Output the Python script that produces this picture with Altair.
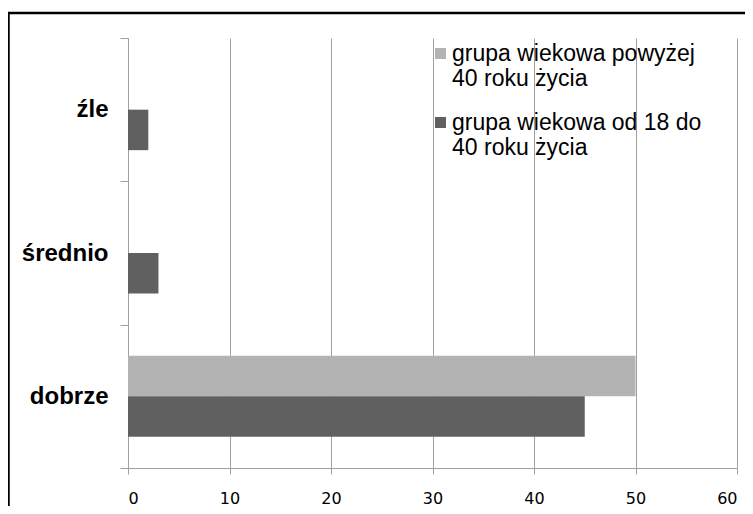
import altair as alt
import pandas as pd

categories = ["źle", "średnio", "dobrze"]
series = ["grupa wiekowa powyżej 40 roku życia", "grupa wiekowa od 18 do 40 roku życia"]
values_over_40 = [0, 0, 50]
values_18_40 = [2, 3, 45]
colors = ["#b3b3b3", "#606060"]
x_ticks = [0, 10, 20, 30, 40, 50, 60]

rows = []
for c, a, b in zip(categories, values_over_40, values_18_40):
    rows.append({"ocena": c, "grupa": series[0], "wartosc": a})
    rows.append({"ocena": c, "grupa": series[1], "wartosc": b})
df = pd.DataFrame(rows)

W, H = 609, 430
GRAY = "#a0a0a0"

bars = alt.Chart(df).mark_bar().encode(
    y=alt.Y(
        "ocena:N",
        sort=categories,
        scale=alt.Scale(paddingInner=0, paddingOuter=0),
        axis=alt.Axis(
            title=None,
            labelFont="Liberation Sans",
            labelFontWeight="bold",
            labelFontSize=24,
            labelColor="black",
            labelPadding=12,
            tickSize=8,
            tickBand="extent",
            domainColor=GRAY,
            tickColor=GRAY,
            grid=False,
        ),
    ),
    yOffset=alt.YOffset(
        "grupa:N", sort=series, scale=alt.Scale(paddingInner=0, paddingOuter=0.77)
    ),
    x=alt.X(
        "wartosc:Q",
        scale=alt.Scale(domain=[0, 60], nice=False),
        axis=alt.Axis(
            values=x_ticks,
            title=None,
            labelFont="DejaVu Sans",
            labelFontSize=16,
            labelColor="black",
            labelPadding=16,
            tickSize=6,
            tickColor=GRAY,
            domainColor=GRAY,
            grid=True,
            gridColor=GRAY,
            gridOpacity=1,
        ),
    ),
    color=alt.Color(
        "grupa:N",
        sort=series,
        scale=alt.Scale(domain=series, range=colors),
        legend=alt.Legend(
            title=None,
            orient="none",
            legendX=301,
            legendY=4,
            padding=0,
            symbolType="square",
            symbolSize=121,
            symbolStrokeWidth=0,
            labelFont="Liberation Sans",
            labelFontSize=23,
            labelColor="black",
            labelLimit=400,
            labelOffset=0,
            rowPadding=20,
            labelExpr="split(replace(datum.label, ' 40 roku', '|40 roku'), '|')",
        ),
    ),
)

frame_src = pd.DataFrame({"k": [0]})
frame_top = alt.Chart(frame_src).mark_rule(color="black", strokeWidth=2.5).encode(
    x=alt.value(-121), x2=alt.value(W + 40), y=alt.value(-25)
)
frame_left = alt.Chart(frame_src).mark_rule(color="black", strokeWidth=2.5).encode(
    x=alt.value(-119.5), y=alt.value(-26), y2=alt.value(H + 60)
)

chart = (
    alt.layer(bars, frame_top, frame_left)
    .properties(
        width=W,
        height=H,
        autosize=alt.AutoSizeParams(type="none"),
        padding={"left": 120, "top": 30, "right": 8, "bottom": 38},
        background="white",
    )
    .configure_view(stroke=None)
)

chart.save("out.html", embed_options={"renderer": "svg", "actions": False})
